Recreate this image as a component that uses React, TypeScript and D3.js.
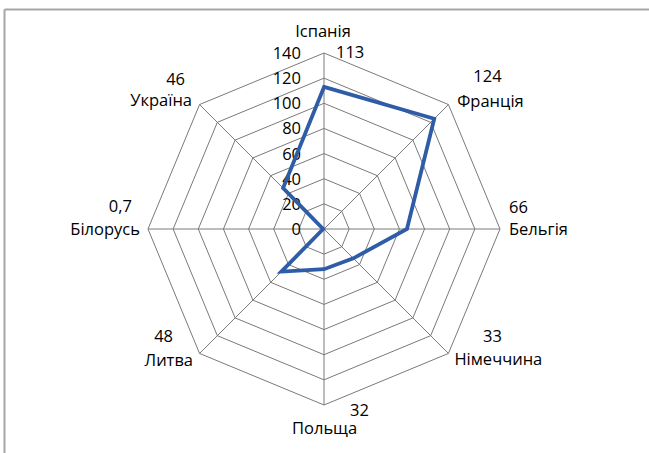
import React from "react";
import * as d3 from "d3";

const categories = ["Іспанія", "Франція", "Бельгія", "Німеччина", "Польща", "Литва", "Білорусь", "Україна"];
const values = [113, 124, 66, 33, 32, 48, 0.7, 46];
const valueLabels = ["113", "124", "66", "33", "32", "48", "0,7", "46"];
const ticks = [0, 20, 40, 60, 80, 100, 120, 140];

// label layout offsets relative to each axis vertex
const catLayout = [
  { dx: -1, dy: -16, anchor: "middle" },
  { dx: 42, dy: 2.5, anchor: "middle" },
  { dx: 9, dy: 6, anchor: "start" },
  { dx: 6, dy: 11.5, anchor: "start" },
  { dx: -32, dy: 28.5, anchor: "start" },
  { dx: -6.5, dy: 12.5, anchor: "end" },
  { dx: -8, dy: 6, anchor: "end" },
  { dx: -7.5, dy: 1.5, anchor: "end" },
];
const valLayout = [
  { dx: 12, dy: 5, anchor: "start" },
  { dx: 39, dy: -22.5, anchor: "middle" },
  { dx: 9, dy: -16, anchor: "start" },
  { dx: 53.5, dy: -11.5, anchor: "end" },
  { dx: 26, dy: 10.5, anchor: "start" },
  { dx: -26.5, dy: -11.5, anchor: "end" },
  { dx: -16, dy: -17, anchor: "end" },
  { dx: -14.5, dy: -19.5, anchor: "end" },
];

const W = 649;
const H = 453;
const cx = 324;
const cy = 229;
const R = 176;

export default function App() {
  const r = d3.scaleLinear().domain([0, 140]).range([0, R]);
  const n = categories.length;
  const angle = (i: number) => (i * 2 * Math.PI) / n;
  const pt = (i: number, v: number): [number, number] => [
    cx + r(v) * Math.sin(angle(i)),
    cy - r(v) * Math.cos(angle(i)),
  ];
  const line = d3.line().curve(d3.curveLinearClosed);
  const font = "'Open Sans', sans-serif";
  const fs = 16.5;
  return (
    <svg width={W} height={H} style={{ position: "absolute", left: 0, top: 0, background: "#fff" }}>
      <line x1={4.5} y1={9.5} x2={W} y2={9.5} stroke="#a6a6a6" strokeWidth={2} />
      <line x1={4.5} y1={9.5} x2={4.5} y2={H} stroke="#a6a6a6" strokeWidth={2} />
      {ticks.slice(1).map((t) => (
        <path
          key={t}
          d={line(categories.map((_, i) => pt(i, t))) || ""}
          fill="none"
          stroke="#7a7a7a"
          strokeWidth={1}
        />
      ))}
      {categories.map((_, i) => {
        const [x, y] = pt(i, 140);
        return <line key={i} x1={cx} y1={cy} x2={x} y2={y} stroke="#7a7a7a" strokeWidth={1} />;
      })}
      {ticks.map((t) => (
        <text
          key={t}
          x={cx - 23}
          y={cy - r(t)}
          dy="0.36em"
          textAnchor="end"
          fontFamily={font}
          fontSize={fs}
          fontWeight={500}
          fill="#000"
        >
          {t}
        </text>
      ))}
      <path
        d={line(values.map((v, i) => pt(i, v))) || ""}
        fill="none"
        stroke="#2E5CA6"
        strokeWidth={3.8}
        strokeLinejoin="miter"
      />
      {categories.map((c, i) => {
        const [x, y] = pt(i, 140);
        const cl = catLayout[i];
        const vl = valLayout[i];
        return (
          <g key={c} fontFamily={font} fontSize={fs} fontWeight={500} fill="#000">
            <text x={x + cl.dx} y={y + cl.dy} textAnchor={cl.anchor as any}>
              {c}
            </text>
            <text x={x + vl.dx} y={y + vl.dy} textAnchor={vl.anchor as any}>
              {valueLabels[i]}
            </text>
          </g>
        );
      })}
    </svg>
  );
}
